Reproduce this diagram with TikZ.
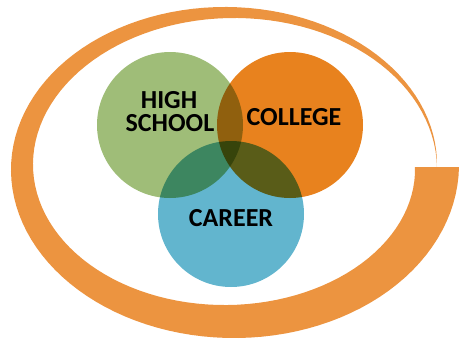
\documentclass[tikz,border=0pt]{standalone}
\usepackage{fontspec}
\setmainfont{Carlito}
\definecolor{hsgreen}{HTML}{9FBD78}
\definecolor{colorange}{HTML}{E8821E}
\definecolor{carblue}{HTML}{62B5CE}
\definecolor{swoosh}{HTML}{EC9440}
\tikzset{
	ring/.style={circle, minimum size=146pt, inner sep=0pt},
	word/.style={font=\fontsize{26}{22}\selectfont\bfseries, inner sep=0pt, anchor=base}
}
\begin{document}
\begin{tikzpicture}[x=1pt, y=1pt]
	\useasboundingbox (0,0) rectangle (459,-341);
	
	% swoosh round the circles
	\fill[swoosh] plot[variable=\t, domain=0:360, samples=120] ({229.5+(207.5+22*(1-\t/360))*cos(\t)}, {-(167+(154.5+22*(1-\t/360))*sin(\t))})
		-- plot[variable=\t, domain=360:0, samples=120] ({229.5+(207.5-22*(1-\t/360))*cos(\t)}, {-(167+(154.5-22*(1-\t/360))*sin(\t))}) -- cycle;
	
	\begin{scope}[blend group=multiply]
		\node [ring, fill=hsgreen] (school) at (170,-125) {};
		\node [ring, fill=colorange] (college) at (290,-125) {};
		\node [ring, fill=carblue] (career) at (231,-214) {};
	\end{scope}
	
	\node [word] (hightext) at (169,-108) {HIGH};
	\node [word] (schooltext) at (170,-131) {SCHOOL};
	\node [word] (collegetext) at (294,-125) {COLLEGE};
	\node [word] (careertext) at (231,-226) {CAREER};
	
\end{tikzpicture}
\end{document}
